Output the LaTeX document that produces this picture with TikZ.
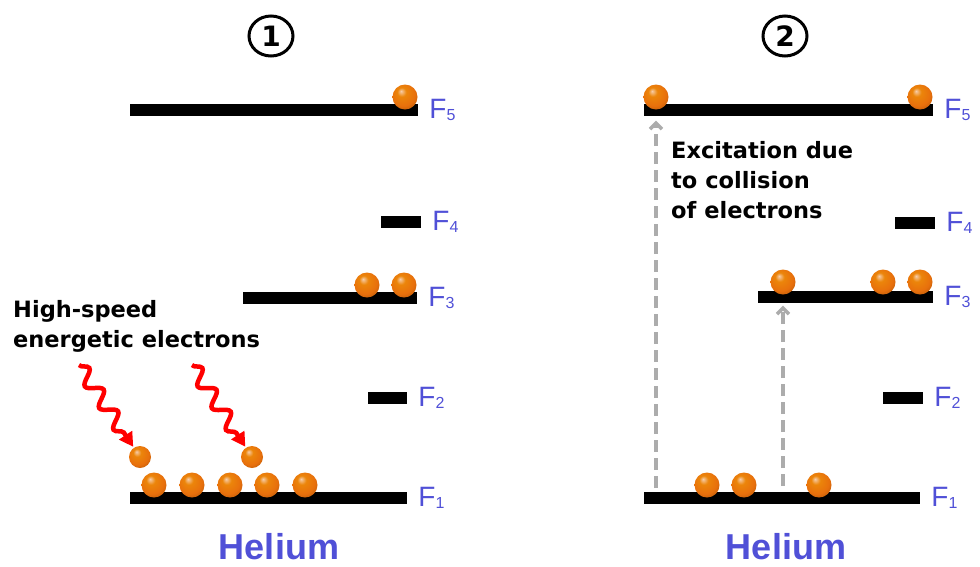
\documentclass[tikz,border=0pt]{standalone}
\usepackage{fontspec}
\setmainfont{Liberation Sans}
\newfontfamily\notefont{DejaVu Sans}
\usetikzlibrary{arrows.meta,positioning,shapes.geometric,decorations.pathmorphing}
\definecolor{heblue}{RGB}{80,80,215}
\definecolor{elorange}{RGB}{232,112,12}
\definecolor{exgray}{RGB}{172,172,172}
\pgfdeclareradialshading{elecball}{\pgfqpoint{-8bp}{12bp}}{%
  color(0bp)=(elorange!35!white); color(9bp)=(elorange!85!yellow);
  color(24bp)=(elorange); color(40bp)=(elorange!70!black);
  color(50bp)=(elorange!50!black)}
\tikzset{
  lvlbar/.style = {rectangle, fill=black, inner sep=0pt, minimum height=12pt},
  lvllab/.style = {text=heblue, inner sep=0pt, font=\fontsize{28}{28}\selectfont},
  elec/.style   = {circle, shading=elecball, inner sep=0pt, minimum size=25pt},
  felec/.style  = {elec, minimum size=22pt},
  hit/.style    = {-{Triangle[length=14pt,width=15pt]}, red, line width=4.5pt,
                   decorate, decoration={snake, amplitude=7pt,
                   segment length=26pt, post length=14pt}},
  excite/.style = {-{Straight Barb[length=6pt,width=12pt]}, exgray,
                   line width=3.5pt, dash pattern=on 12pt off 6pt},
  note/.style   = {align=left, inner sep=0pt, anchor=north west,
                   font=\notefont\bfseries\fontsize{22.5}{30}\selectfont},
  gaslab/.style = {text=heblue, inner sep=0pt,
                   font=\bfseries\fontsize{36}{36}\selectfont},
  pnum/.style   = {ellipse, draw, line width=3pt, inner sep=0pt,
                   minimum width=44pt, minimum height=40pt,
                   font=\notefont\bfseries\fontsize{28}{28}\selectfont},
}
\newcommand{\lvlsub}[1]{\raisebox{-1.5pt}{\fontsize{16}{16}\selectfont #1}}
% energy level: name, centre, width, index
\newcommand{\level}[4]{%
  \node[lvlbar, minimum width=#3] (#1) at #2 {};
  \node[lvllab, right=11pt of #1] (#1lab) {F\lvlsub{#4}};
}

\begin{document}
\begin{tikzpicture}[x=1pt, y=-1pt]
  \useasboundingbox (0,0) rectangle (980,566);

  % before the collisions
  \node[pnum] (numA) at (271,36) {1};
  \level{aF5}{(274,110)}{288pt}{5}
  \level{aF4}{(401,222)}{40pt}{4}
  \level{aF3}{(330,298)}{174pt}{3}
  \level{aF2}{(387.5,398)}{39pt}{2}
  \level{aF1}{(268.5,498)}{277pt}{1}

  \node[elec] (aF5e1) at (405,97) {};
  \node[elec] (aF3e1) at (367,285) {};
  \node[elec] (aF3e2) at (404,285) {};
  \foreach \x [count=\i] in {154,192,230,267,305}
    \node[elec] (aF1e\i) at (\x,485) {};

  \node[felec] (aFree1) at (140,457) {};
  \node[felec] (aFree2) at (252,457) {};
  \coordinate (hitA) at (79,365);
  \coordinate (hitB) at (192,365);
  \draw[hit, shorten >=1pt] (hitA) -- (aFree1);
  \draw[hit, shorten >=1pt] (hitB) -- (aFree2);

  \node[note] (noteA) at (13,300) {High-speed\\energetic electrons};
  \node[gaslab] (gasA) at (279,547) {Helium};

  % after the collisions
  \node[pnum] (numB) at (785,36) {2};
  \level{bF5}{(788.5,110)}{289pt}{5}
  \level{bF4}{(915,223)}{40pt}{4}
  \level{bF3}{(845.5,297)}{175pt}{3}
  \level{bF2}{(903,398)}{40pt}{2}
  \level{bF1}{(782,498)}{276pt}{1}

  \node[elec] (bF5e1) at (656,97) {};
  \node[elec] (bF5e2) at (920,97) {};
  \node[elec] (bF3e1) at (783,282) {};
  \node[elec] (bF3e2) at (883,282) {};
  \node[elec] (bF3e3) at (920,282) {};
  \node[elec] (bF1e1) at (707,485) {};
  \node[elec] (bF1e2) at (744,485) {};
  \node[elec] (bF1e3) at (819,485) {};

  \coordinate (exA) at (656,488);
  \coordinate (exB) at (783,486);
  \draw[excite, shorten >=11pt] (exA) -- (bF5e1);
  \draw[excite, shorten >=11pt] (exB) -- (bF3e1);

  \node[note] (noteB) at (671,141) {Excitation due\\to collision\\of electrons};
  \node[gaslab] (gasB) at (786,547) {Helium};
\end{tikzpicture}
\end{document}
